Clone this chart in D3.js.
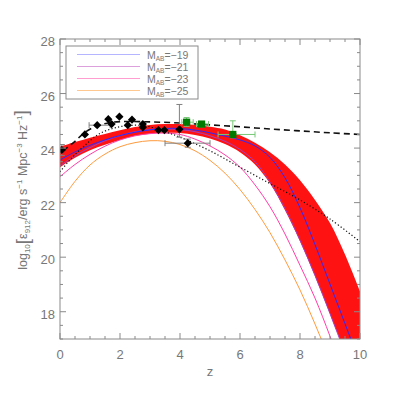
<!DOCTYPE html>
<html>
<head>
<meta charset="utf-8">
<script src="https://cdn.jsdelivr.net/npm/d3@7"></script>
<style>
  body { margin: 0; background: #fff; }
  svg text { font-family: "Liberation Sans", Arial, sans-serif; fill: #777; }
</style>
</head>
<body>
<svg width="399" height="399"></svg>
<script>
// redshift grid the model curves are sampled on
var zs = [0,0.5,1,1.5,2,2.5,3,3.5,4,4.5,5,5.5,6,6.5,7,7.5,8,8.5,9,9.5,10];

// red uncertainty band
var bandHi = [24.05,24.22,24.38,24.52,24.65,24.77,24.85,24.88,24.88,24.85,24.78,24.68,24.47,24.2,23.85,23.4,22.82,22.1,21.25,20.1,18.75];
var bandLo = [23.3,23.65,23.92,24.12,24.3,24.45,24.53,24.56,24.55,24.48,24.35,24.15,23.85,23.4,22.7,21.72,20.58,19.3,17.92,16.5,15.05];

// model curves for each magnitude limit
var m19 = [23.56,23.86,24.1,24.3,24.46,24.58,24.67,24.72,24.72,24.66,24.56,24.44,24.3,24.08,23.66,22.91,21.81,20.46,19.01,17.56,16.11];
var m21 = [23.35,23.72,24.02,24.27,24.46,24.6,24.68,24.7,24.68,24.6,24.45,24.25,23.95,23.5,22.75,21.78,20.62,19.33,17.93,16.48,15.0];
var m23 = [22.95,23.4,23.77,24.07,24.3,24.45,24.53,24.55,24.5,24.33,24.08,23.75,23.3,22.65,21.85,20.85,19.7,18.5,17.1,15.55,13.95];
var m25 = [22.0,22.78,23.38,23.78,24.05,24.2,24.27,24.25,24.13,23.9,23.55,23.08,22.48,21.75,20.9,19.9,18.8,17.55,16.2,14.75,13.2];

var legendLabels = ["\u221219", "\u221221", "\u221223", "\u221225"];
var lineColors = ["#2a2aff", "#a040c0", "#ff3da8", "#ff9a3c"];
var legendColors = ["#b4b4ff", "#dca0dc", "#ff9cd0", "#ffc890"];

// dashed and dotted reference curves
var dashZ = [0.1,0.5,0.8,1.2,1.6,2,3,4,5,6,7,8,9,10];
var dashV = [23.9,24.25,24.55,24.8,24.92,24.97,24.96,24.92,24.85,24.78,24.7,24.63,24.56,24.5];
var dotZ = [0,0.4,0.8,1.3,1.9,2.5,3,3.5,4,5,6,7,8,9,10];
var dotV = [23.13,23.65,24.07,24.52,24.76,24.84,24.78,24.6,24.4,23.9,23.3,22.7,22.1,21.4,20.57];

// black diamond measurements
var ptZ = [0.06,0.83,1.24,1.61,1.72,1.98,2.26,2.4,2.76,2.76,3.28,3.48,3.98,4.26];
var ptV = [23.93,24.5,24.84,25.06,24.88,25.15,24.84,25.04,24.88,24.76,24.66,24.66,24.69,24.18];
var ptVLo = [23.73,24.5,24.84,25.06,24.88,25.15,24.84,25.04,24.88,24.76,24.6,24.6,24.4,24.03];
var ptVHi = [24.13,24.5,24.84,25.06,24.88,25.15,24.84,25.04,24.88,24.76,24.72,24.72,25.6,24.33];
var ptZLo = [0.06,0.83,0.97,1.61,1.72,1.98,2.26,2.4,2.76,2.76,3.28,3.48,3.98,3.5];
var ptZHi = [0.06,0.83,1.67,1.61,1.72,1.98,2.26,2.4,2.76,2.76,3.28,3.48,3.98,5.0];

// green square measurements
var gZ = [4.22,4.72,5.76];
var gV = [24.95,24.88,24.5];
var gVLo = [24.8,24.78,24.38];
var gVHi = [25.12,24.98,25.0];
var gZLo = [4.06,4.55,5.27];
var gZHi = [4.44,4.95,6.5];

var xTicks = [0,2,4,6,8,10];
var yTicks = [18,20,22,24,26,28];

var svg = d3.select("svg");
var L = 60, R = 360, T = 39, B = 339;
var x = d3.scaleLinear().domain([0, 10]).range([L, R]);
var y = d3.scaleLinear().domain([17, 28]).range([B, T]);

svg.append("clipPath").attr("id", "clip")
  .append("rect").attr("x", L).attr("y", T).attr("width", R - L).attr("height", B - T);
var plot = svg.append("g").attr("clip-path", "url(#clip)");

// band
var area = d3.area()
  .x(function(d, i) { return x(zs[i]); })
  .y0(function(d, i) { return y(bandLo[i]); })
  .y1(function(d, i) { return y(bandHi[i]); })
  .curve(d3.curveCatmullRom);
plot.append("path").datum(bandHi).attr("d", area).attr("fill", "#ff1212");

var line = d3.line()
  .x(function(d, i) { return x(zs[i]); })
  .y(function(d) { return y(d); })
  .curve(d3.curveCatmullRom);

[m25, m23, m21, m19].forEach(function(s, k) {
  plot.append("path").datum(s).attr("d", line)
    .attr("fill", "none").attr("stroke", lineColors[3 - k]).attr("stroke-width", 1);
});

var line2 = d3.line().x(function(d) { return x(d[0]); }).y(function(d) { return y(d[1]); }).curve(d3.curveCatmullRom);
plot.append("path").datum(d3.zip(dashZ, dashV)).attr("d", line2)
  .attr("fill", "none").attr("stroke", "#111").attr("stroke-width", 1.6).attr("stroke-dasharray", "6,4");
plot.append("path").datum(d3.zip(dotZ, dotV)).attr("d", line2)
  .attr("fill", "none").attr("stroke", "#111").attr("stroke-width", 1.2).attr("stroke-dasharray", "1.2,2.2");

// error bars
function errBars(zc, vc, zl, zh, vl, vh, col) {
  var g = plot.append("g").attr("stroke", col).attr("stroke-width", 1);
  zc.forEach(function(z, i) {
    if (vh[i] > vl[i]) {
      g.append("line").attr("x1", x(z)).attr("x2", x(z)).attr("y1", y(vl[i])).attr("y2", y(vh[i]));
      g.append("line").attr("x1", x(z) - 3).attr("x2", x(z) + 3).attr("y1", y(vl[i])).attr("y2", y(vl[i]));
      g.append("line").attr("x1", x(z) - 3).attr("x2", x(z) + 3).attr("y1", y(vh[i])).attr("y2", y(vh[i]));
    }
    if (zh[i] > zl[i]) {
      g.append("line").attr("x1", x(zl[i])).attr("x2", x(zh[i])).attr("y1", y(vc[i])).attr("y2", y(vc[i]));
      g.append("line").attr("x1", x(zl[i])).attr("x2", x(zl[i])).attr("y1", y(vc[i]) - 3).attr("y2", y(vc[i]) + 3);
      g.append("line").attr("x1", x(zh[i])).attr("x2", x(zh[i])).attr("y1", y(vc[i]) - 3).attr("y2", y(vc[i]) + 3);
    }
  });
}
errBars(gZ, gV, gZLo, gZHi, gVLo, gVHi, "#78c878");
errBars(ptZ, ptV, ptZLo, ptZHi, ptVLo, ptVHi, "#808080");

plot.selectAll(".sq").data(gZ).join("path")
  .attr("transform", function(d, i) { return "translate(" + x(d) + "," + y(gV[i]) + ")"; })
  .attr("d", d3.symbol(d3.symbolSquare, 52)).attr("fill", "#007a00");
// diamonds: squares turned 45 degrees
plot.selectAll(".dm").data(ptZ).join("path")
  .attr("transform", function(d, i) { return "translate(" + x(d) + "," + y(ptV[i]) + ") rotate(45)"; })
  .attr("d", d3.symbol(d3.symbolSquare, 34)).attr("fill", "#000");

// frame and ticks
var ax = svg.append("g").attr("stroke", "#8a8a8a").attr("stroke-width", 1).attr("fill", "none");
ax.append("rect").attr("x", L).attr("y", T).attr("width", R - L).attr("height", B - T);
d3.range(0, 10.01, 0.5).forEach(function(z) {
  var len = (z % 2 === 0) ? 6 : 3;
  ax.append("line").attr("x1", x(z)).attr("x2", x(z)).attr("y1", B).attr("y2", B - len);
  ax.append("line").attr("x1", x(z)).attr("x2", x(z)).attr("y1", T).attr("y2", T + len);
});
d3.range(17, 28.01, 0.5).forEach(function(v) {
  var len = (v % 2 === 0) ? 6 : 3;
  ax.append("line").attr("y1", y(v)).attr("y2", y(v)).attr("x1", L).attr("x2", L + len);
  ax.append("line").attr("y1", y(v)).attr("y2", y(v)).attr("x1", R).attr("x2", R - len);
});

svg.selectAll(".xt").data(xTicks).join("text")
  .attr("x", function(d) { return x(d); }).attr("y", 359)
  .attr("text-anchor", "middle").attr("font-size", 13).text(function(d) { return d; });
svg.selectAll(".yt").data(yTicks).join("text")
  .attr("x", 55).attr("y", function(d) { return y(d) + 7; })
  .attr("text-anchor", "end").attr("font-size", 13).text(function(d) { return d; });

svg.append("text").attr("x", 210).attr("y", 376).attr("text-anchor", "middle")
  .attr("font-size", 13).text("z");

// y axis title
var yl = svg.append("text").attr("transform", "translate(27,190) rotate(-90)")
  .attr("text-anchor", "middle").attr("font-size", 12.5);
yl.append("tspan").text("log");
yl.append("tspan").attr("font-size", 8).attr("dy", 3).text("10");
yl.append("tspan").attr("font-size", 19).attr("dy", -1).text("[");
yl.append("tspan").attr("font-size", 12.5).attr("dy", -2).text("\u03b5");
yl.append("tspan").attr("font-size", 8).attr("dy", 3).text("912");
yl.append("tspan").attr("font-size", 12.5).attr("dy", -3).text("/erg s");
yl.append("tspan").attr("font-size", 8).attr("dy", -5).text("\u22121");
yl.append("tspan").attr("font-size", 12.5).attr("dy", 5).text("  Mpc");
yl.append("tspan").attr("font-size", 8).attr("dy", -5).text("\u22123");
yl.append("tspan").attr("font-size", 12.5).attr("dy", 5).text("  Hz");
yl.append("tspan").attr("font-size", 8).attr("dy", -5).text("\u22121");
yl.append("tspan").attr("font-size", 19).attr("dy", 5).text("]");

// legend
svg.append("rect").attr("x", 66).attr("y", 46).attr("width", 132).attr("height", 53)
  .attr("fill", "#fff").attr("stroke", "#8a8a8a");
legendLabels.forEach(function(lab, i) {
  var yy = 54.5 + i * 12;
  svg.append("line").attr("x1", 77).attr("x2", 140).attr("y1", yy).attr("y2", yy)
    .attr("stroke", legendColors[i]).attr("stroke-width", 1);
  var t = svg.append("text").attr("x", 147).attr("y", yy + 4).attr("font-size", 10.5);
  t.append("tspan").text("M");
  t.append("tspan").attr("font-size", 6.5).attr("dy", 2).text("AB");
  t.append("tspan").attr("dy", -2).text("=" + lab);
});
</script>
</body>
</html>
